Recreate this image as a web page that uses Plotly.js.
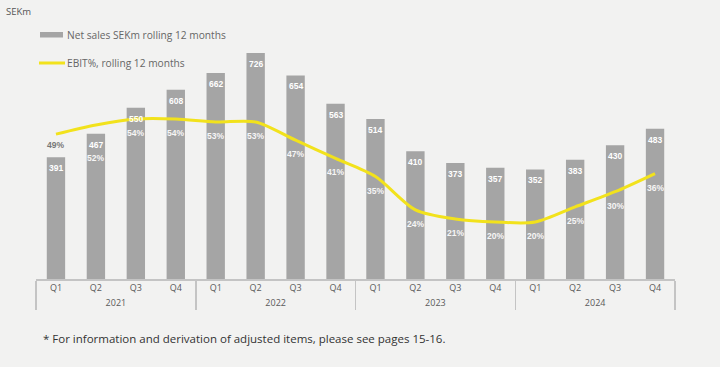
<!DOCTYPE html>
<html>
<head>
<meta charset="utf-8">
<script src="https://cdn.plot.ly/plotly-3.0.1.min.js"></script>
<style>html,body{margin:0;padding:0;background:#f2f2f1;}#chart{width:720px;height:367px;}</style>
</head>
<body>
<div id="chart"></div>
<script>
const years = ['2021','2021','2021','2021','2022','2022','2022','2022','2023','2023','2023','2023','2024','2024','2024','2024'];
const quarters = ['Q1','Q2','Q3','Q4','Q1','Q2','Q3','Q4','Q1','Q2','Q3','Q4','Q1','Q2','Q3','Q4'];
const netSales = [391,467,550,608,662,726,654,563,514,410,373,357,352,383,430,483];
const ebitPct = [49,52,54,54,53,53,47,41,35,24,21,20,20,25,30,36];
const salesLabel = 'Net sales SEKm rolling 12 months';
const ebitLabel = 'EBIT%, rolling 12 months';
const unitLabel = 'SEKm';
const footnote = '* For information and derivation of adjusted items, please see pages 15-16.';

const W = 720, H = 367;
const M = {l: 36, r: 45, t: 39, b: 88};
const PW = W - M.l - M.r, PH = H - M.t - M.b;
const px = x => (x - M.l) / PW;
const py = y => (H - M.b - y) / PH;

const FONT = '"Open Sans", Lato, sans-serif';
const GREY = '#a5a5a5';
const YELLOW = '#f2e21c';

const bars = {
  type: 'bar', x: [years, quarters], y: netSales, name: salesLabel,
  marker: {color: GREY}, width: 0.46, showlegend: false, hoverinfo: 'skip'
};
const line = {
  type: 'scatter', mode: 'lines', x: [years, quarters], y: ebitPct, yaxis: 'y2', name: ebitLabel,
  line: {color: YELLOW, width: 3, shape: 'spline', smoothing: 0.8}, showlegend: false, hoverinfo: 'skip'
};

const annotations = [];
netSales.forEach((v, i) => {
  annotations.push({x: i, y: v, xref: 'x', yref: 'y', text: String(v), showarrow: false,
    yshift: -11, font: {family: 'Liberation Sans, Arial, sans-serif', size: 8.5, color: '#ffffff', weight: 'bold'}});
});
ebitPct.forEach((v, i) => {
  const shift = i === 0 ? -11 : (i === 1 ? -33 : -14);
  annotations.push({x: i, y: v, xref: 'x', yref: 'y2', text: v + '%', showarrow: false,
    yshift: shift, font: {family: 'Liberation Sans, Arial, sans-serif', size: 8.5, color: i === 0 ? '#777777' : '#f6f6f6', weight: 'bold'}});
});
annotations.push({xref: 'paper', yref: 'paper', x: px(4), y: py(12), xanchor: 'left', yanchor: 'middle',
  text: unitLabel, showarrow: false, font: {family: FONT, size: 9.5, color: '#555'}});
annotations.push({xref: 'paper', yref: 'paper', x: px(65), y: py(35), xanchor: 'left', yanchor: 'middle',
  text: salesLabel, showarrow: false, font: {family: FONT, size: 10.2, color: '#666'}});
annotations.push({xref: 'paper', yref: 'paper', x: px(65), y: py(63), xanchor: 'left', yanchor: 'middle',
  text: ebitLabel, showarrow: false, font: {family: FONT, size: 10.2, color: '#666'}});
annotations.push({xref: 'paper', yref: 'paper', x: px(41), y: py(338), xanchor: 'left', yanchor: 'middle',
  text: footnote, showarrow: false, font: {family: FONT, size: 11.5, color: '#333'}});

const shapes = [
  {type: 'rect', xref: 'paper', yref: 'paper', x0: px(40), x1: px(63), y0: py(32), y1: py(37.5),
   fillcolor: GREY, line: {width: 0}},
  {type: 'line', xref: 'paper', yref: 'paper', x0: px(39), x1: px(65), y0: py(63), y1: py(63),
   line: {color: YELLOW, width: 3}}
];

const layout = {
  width: W, height: H, margin: M,
  paper_bgcolor: '#f2f2f1', plot_bgcolor: '#f2f2f1',
  font: {family: FONT, color: '#555'},
  xaxis: {type: 'multicategory', range: [-0.5, 15.5], showline: true, linecolor: '#c4c4c4', linewidth: 1.5,
    ticks: '', showgrid: false, zeroline: false, showdividers: true, dividercolor: '#c4c4c4', dividerwidth: 1.5,
    tickfont: {family: FONT, size: 9, color: '#5a5a5a'}},
  yaxis: {range: [0, 771], visible: false, showgrid: false, zeroline: false},
  yaxis2: {range: [1.2, 80.4], overlaying: 'y', side: 'right', visible: false, showgrid: false, zeroline: false},
  annotations: annotations, shapes: shapes
};

Plotly.newPlot('chart', [bars, line], layout, {displayModeBar: false, staticPlot: true});
</script>
</body>
</html>
